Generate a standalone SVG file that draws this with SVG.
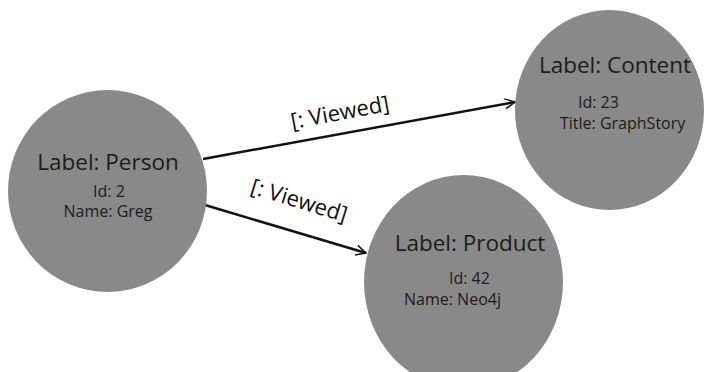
<svg xmlns="http://www.w3.org/2000/svg" width="704" height="372" viewBox="0 0 704 372">
<style>
.node{fill:#898989;}
.t{font-family:"Open Sans","Noto Sans",sans-serif;fill:#1c1c1c;}
.lbl{font-size:22.5px;}
.prop{font-size:16px;}
.edge{stroke:#111;stroke-width:2.5;fill:none;}
.elbl{font-family:"Open Sans","Noto Sans",sans-serif;font-size:22px;fill:#111;text-anchor:middle;}
</style>
<defs>
<marker id="arr" viewBox="0 0 12 12" refX="11" refY="6" markerWidth="12" markerHeight="12" markerUnits="userSpaceOnUse" orient="auto">
<path d="M1,1 L11,6 L1,11" fill="none" stroke="#111" stroke-width="1.5"/>
</marker>
</defs>
<rect width="704" height="372" fill="#fff"/>
<g id="connectors">
<line class="edge" x1="203" y1="159" x2="515" y2="102" marker-end="url(#arr)"/>
<line class="edge" x1="205" y1="205" x2="366" y2="253" marker-end="url(#arr)"/>
<text class="elbl" transform="translate(340,113) rotate(-10.5)" y="7">[: Viewed]</text>
<text class="elbl" transform="translate(299,201) rotate(17)" y="7">[: Viewed]</text>
</g>
<g id="person">
<ellipse class="node" cx="107.5" cy="191" rx="99.5" ry="101"/>
<text class="t lbl" x="108" y="170" text-anchor="middle">Label: Person</text>
<text class="t prop" x="109" y="197" text-anchor="middle">Id: 2</text>
<text class="t prop" x="108" y="217" text-anchor="middle">Name: Greg</text>
</g>
<g id="content">
<ellipse class="node" cx="609.5" cy="110" rx="94.5" ry="100"/>
<text class="t lbl" x="615" y="73" text-anchor="middle">Label: Content</text>
<text class="t prop" x="578" y="108">Id: 23</text>
<text class="t prop" x="560" y="129">Title: GraphStory</text>
</g>
<g id="product">
<ellipse class="node" cx="463.5" cy="282" rx="99.5" ry="107"/>
<text class="t lbl" x="470" y="251" text-anchor="middle">Label: Product</text>
<text class="t prop" x="449" y="284">Id: 42</text>
<text class="t prop" x="404" y="305">Name: Neo4j</text>
</g>
</svg>
